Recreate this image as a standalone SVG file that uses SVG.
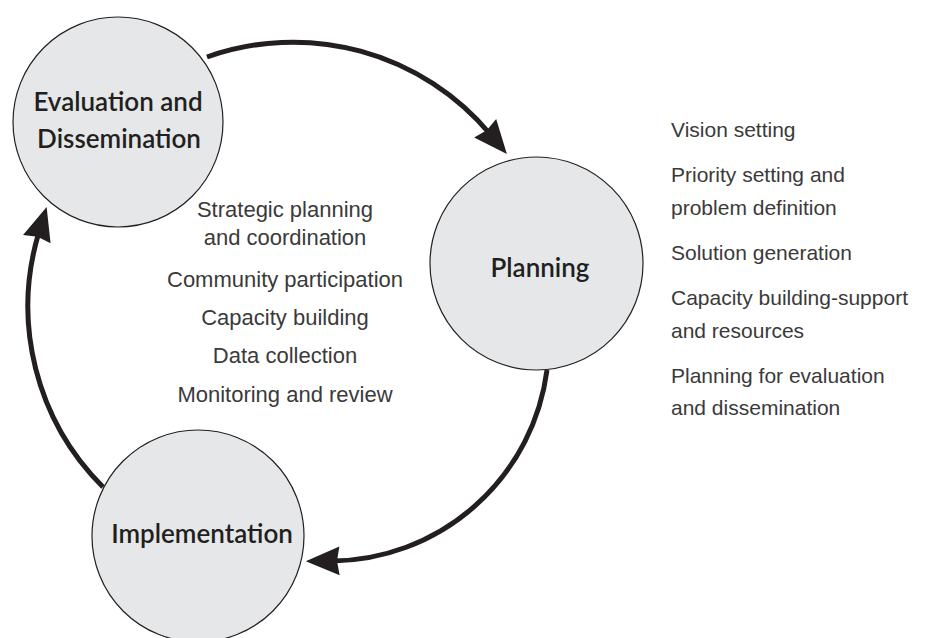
<svg xmlns="http://www.w3.org/2000/svg" width="931" height="638" viewBox="0 0 931 638">
<style>
.node circle{fill:#e6e7e8;stroke:#231f20;stroke-width:1.2}
.lbl{font-family:Lato,"Liberation Sans",sans-serif;font-weight:600;font-size:26px;fill:#231f20;text-anchor:middle}
.item{font-family:"Liberation Sans",Arial,sans-serif;font-size:21px;fill:#3a3a3a}
.mid{text-anchor:middle;font-size:22px}
.conn path{fill:none;stroke:#231f20;stroke-width:5}
</style>
<defs>
<marker id="ah" markerUnits="userSpaceOnUse" markerWidth="40" markerHeight="40" viewBox="-2 -14 32 28" refX="6" refY="0" orient="auto">
<path d="M0,-11.5 L27,0 L0,11.5 L2,0 z" fill="#231f20"/>
</marker>
</defs>
<rect width="931" height="638" fill="#fff"/>
<g id="connectors" class="conn">
<path d="M207,57 A257,257 0 0 1 490,134" marker-end="url(#ah)"/>
<path d="M547,370 A219,219 0 0 1 332,561" marker-end="url(#ah)"/>
<path d="M103,487 A255,255 0 0 1 39,232" marker-end="url(#ah)"/>
</g>
<g id="evaluation" class="node">
<circle cx="118" cy="122" r="105"/>
<text class="lbl" x="118" y="111">Evaluation and</text>
<text class="lbl" x="119" y="148">Dissemination</text>
</g>
<g id="planning" class="node">
<circle cx="536.5" cy="263.5" r="106.5"/>
<text class="lbl" x="540" y="277">Planning</text>
</g>
<g id="implementation" class="node">
<circle cx="198" cy="536" r="106"/>
<text class="lbl" x="202" y="543">Implementation</text>
</g>
<g id="center-list" class="item mid">
<text x="285" y="217">Strategic planning</text>
<text x="285" y="245">and coordination</text>
<text x="285" y="287">Community participation</text>
<text x="285" y="325">Capacity building</text>
<text x="285" y="363">Data collection</text>
<text x="285" y="402">Monitoring and review</text>
</g>
<g id="planning-list" class="item">
<text x="671" y="137">Vision setting</text>
<text x="671" y="182">Priority setting and</text>
<text x="671" y="215">problem definition</text>
<text x="671" y="260">Solution generation</text>
<text x="671" y="305">Capacity building-support</text>
<text x="671" y="338">and resources</text>
<text x="671" y="383">Planning for evaluation</text>
<text x="671" y="415">and dissemination</text>
</g>
</svg>
